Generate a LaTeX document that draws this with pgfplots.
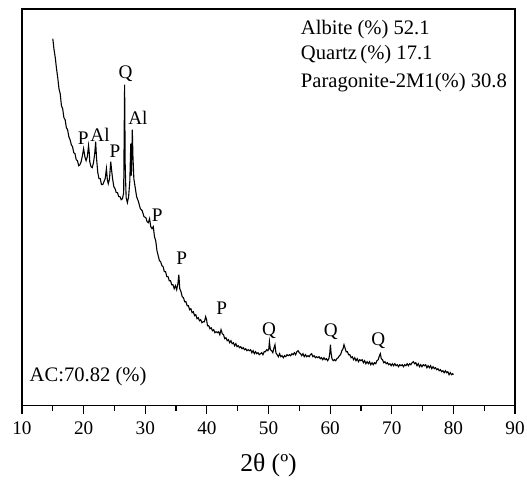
\documentclass[border=0pt]{standalone}
\usepackage{fontspec}
\setmainfont{Liberation Serif}
\usepackage{pgfplots}
\pgfplotsset{compat=1.18}
\begin{document}
\begin{tikzpicture}
\begin{axis}[
  scale only axis,
  width=246.5pt, height=198.35pt,
  xmin=10, xmax=90, ymin=0, ymax=396.7,
  xtick={10,20,...,90},
  minor xtick={15,25,...,85},
  ytick=\empty,
  xtick pos=bottom,
  tick align=outside,
  major tick length=4pt,
  minor tick length=2.5pt,
  axis line style={line width=0.6pt},
  every tick/.style={black, line width=0.6pt},
  /pgf/number format/assume math mode=true,
  tick label style={font=\fontsize{9.6}{11}\selectfont},
  xticklabel style={anchor=center, yshift=-7.4pt},
  xlabel={2θ (º)},
  xlabel style={font=\fontsize{12.8}{15}\selectfont, at={(axis description cs:0.5,0)}, anchor=center, yshift=-29.65pt},
  clip=false,
]
\addplot[black, line width=0.55pt] coordinates {
(15.0,367)(15.2,356)(15.4,348)(15.6,337)(15.8,328)(16.0,317)(16.2,312)(16.4,300)(16.6,297)(16.8,288)
(17.0,286)(17.2,278)(17.4,276)(17.6,269)(17.8,266)(18.0,261)(18.2,259)(18.4,253)(18.6,252)(18.8,246)
(19.0,245)(19.2,240)(19.4,241)(19.6,244)(19.8,250)(20.0,257)(20.2,249)(20.4,245)(20.6,249)(20.8,260)
(20.9,254)(21.0,244)(21.2,239)(21.4,238)(21.6,243)(21.8,252)(21.95,264)(22.1,247)(22.3,233)(22.5,227)
(22.7,227)(22.9,221)(23.1,221)(23.3,224)(23.5,227)(23.7,237)(23.85,226)(24.0,222)(24.2,227)(24.4,244)
(24.55,235)(24.7,227)(24.9,219)(25.1,217)(25.3,213)(25.5,213)(25.7,209)(25.9,209)(26.1,206)(26.3,207)
(26.5,213)(26.65,321)(26.75,238)(26.9,208)(27.1,203)(27.3,209)(27.5,225)(27.65,262)(27.75,230)(27.9,276)
(28.0,250)(28.15,227)(28.35,219)(28.6,209)(28.9,204)(29.2,197)(29.5,195)(29.8,189)(30.1,188)(30.3,184)
(30.5,183)(30.7,187)(30.9,179)(31.1,177)(31.3,179)(31.5,169)(31.7,165)(31.9,155)(32.1,150)(32.3,145)
(32.5,144)(32.7,140)(32.9,139)(33.1,134)(33.3,134)(33.5,129)(33.7,129)(33.9,125)(34.1,125)(34.3,121)
(34.5,121)(34.7,117)(34.9,120)(35.1,116)(35.3,122)(35.45,131)(35.6,117)(35.8,114)(36.0,109)(36.2,108)
(36.4,104)(36.6,104)(36.8,100)(37.0,100)(37.2,96)(37.4,97)(37.6,93)(37.8,94)(38.0,90)(38.2,91)
(38.4,87)(38.6,88)(38.8,85)(39.0,86)(39.2,83)(39.4,84)(39.6,84)(39.8,89)(39.95,86)(40.1,80)
(40.3,80)(40.5,77)(40.7,78)(40.9,75)(41.1,76)(41.3,73)(41.5,74)(41.7,73)(41.9,74)(42.1,71)
(42.3,76)(42.5,72)(42.7,71)(42.9,67)(43.1,68)(43.3,65)(43.5,66)(43.7,63)(43.9,65)(44.1,62)
(44.3,63)(44.5,60)(44.7,62)(44.9,59)(45.1,60)(45.3,58)(45.5,59)(45.7,57)(45.9,58)(46.1,56)
(46.3,57)(46.5,55)(46.7,56)(46.9,55)(47.1,56)(47.3,53)(47.5,55)(47.7,52)(47.9,54)(48.1,52)
(48.3,53)(48.5,51)(48.7,52)(48.9,53)(49.1,51)(49.3,54)(49.5,54)(49.7,56)(49.9,55)(50.05,57)
(50.15,64)(50.3,56)(50.5,55)(50.7,53)(50.9,58)(51.05,61)(51.2,53)(51.4,51)(51.6,49)(51.8,52)
(52.0,49)(52.2,50)(52.4,48)(52.6,50)(52.8,49)(53.0,51)(53.2,50)(53.4,51)(53.6,50)(53.8,52)
(54.0,51)(54.2,53)(54.4,51)(54.6,54)(54.8,55)(55.0,53)(55.2,52)(55.4,50)(55.6,52)(55.8,49)
(56.0,51)(56.2,49)(56.4,50)(56.6,49)(56.8,51)(57.0,52)(57.2,49)(57.4,50)(57.6,48)(57.8,49)
(58.0,48)(58.2,49)(58.4,47)(58.6,48)(58.8,46)(59.0,48)(59.2,46)(59.4,47)(59.6,45)(59.8,47)
(59.95,53)(60.05,61)(60.15,53)(60.3,47)(60.5,45)(60.7,46)(60.9,45)(61.1,47)(61.3,48)(61.5,50)
(61.7,51)(61.9,55)(62.1,57)(62.25,61)(62.4,58)(62.6,54)(62.8,54)(63.0,51)(63.2,51)(63.4,48)
(63.6,49)(63.8,46)(64.0,48)(64.2,45)(64.4,47)(64.6,44)(64.8,46)(65.0,45)(65.2,46)(65.4,43)
(65.6,45)(65.8,42)(66.0,44)(66.2,42)(66.4,44)(66.6,41)(66.8,43)(67.0,41)(67.2,43)(67.4,42)
(67.6,45)(67.8,46)(68.0,50)(68.15,52)(68.3,47)(68.5,46)(68.7,43)(68.9,44)(69.1,42)(69.3,43)
(69.5,41)(69.7,42)(69.9,40)(70.1,42)(70.3,40)(70.5,42)(70.7,40)(70.9,41)(71.1,39)(71.3,41)
(71.5,40)(71.7,41)(71.9,39)(72.1,41)(72.3,40)(72.5,42)(72.7,40)(72.9,42)(73.1,41)(73.3,43)
(73.5,44)(73.7,42)(73.9,43)(74.1,40)(74.3,42)(74.5,39)(74.7,41)(74.9,39)(75.1,41)(75.3,40)
(75.5,41)(75.7,38)(75.9,40)(76.1,38)(76.3,40)(76.5,37)(76.7,39)(76.9,37)(77.1,38)(77.3,36)
(77.5,37)(77.7,35)(77.9,36)(78.1,34)(78.3,35)(78.5,33)(78.7,35)(78.9,33)(79.1,34)(79.3,31)
(79.5,33)(79.7,31)(79.9,32)(80.0,31)
};
\begin{scope}[every node/.style={font=\fontsize{10.3}{12}\selectfont, anchor=west, inner sep=0pt}]
\node at (axis cs:55.2,375.7) {Albite (\%) 52.1};
\node at (axis cs:55.2,350.7) {Quartz\,(\%) 17.1};
\node at (axis cs:55.2,323) {Paragonite-2M1(\%) 30.8};
\node at (axis cs:11.18,29) {AC:70.82 (\%)};
\end{scope}
\begin{scope}[every node/.style={font=\fontsize{9.6}{11}\selectfont}]
\node at (axis cs:19.95,267) {P};
\node at (axis cs:22.66,271) {Al};
\node at (axis cs:25.1,254) {P};
\node at (axis cs:26.8,332) {Q};
\node at (axis cs:28.8,288) {Al};
\node at (axis cs:31.96,190) {P};
\node at (axis cs:35.9,147) {P};
\node at (axis cs:42.4,97) {P};
\node at (axis cs:50.1,75) {Q};
\node at (axis cs:60.1,74) {Q};
\node at (axis cs:67.8,65) {Q};
\end{scope}
\coordinate (SW) at (rel axis cs:0,0);
\coordinate (NE) at (rel axis cs:1,1);
\end{axis}
\pgfresetboundingbox
\path[use as bounding box] ([xshift=-11pt, yshift=-37.15pt]SW) rectangle ([xshift=6pt, yshift=4.5pt]NE);
\end{tikzpicture}
\end{document}
